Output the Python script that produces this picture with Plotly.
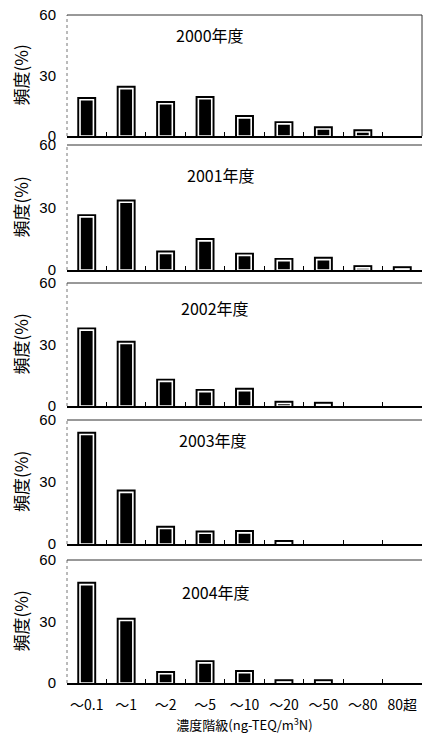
import plotly.graph_objects as go
from plotly.subplots import make_subplots

categories = ["～0.1", "～1", "～2", "～5", "～10", "～20", "～50", "～80", "80超"]
years = ["2000年度", "2001年度", "2002年度", "2003年度", "2004年度"]
v2000 = [18, 23.5, 16, 18.5, 9, 6, 3.5, 2, 0]
v2001 = [25.5, 32.5, 8, 14, 7, 4.5, 5, 1, 0.5]
v2002 = [37, 30.5, 12, 7, 7.5, 1.2, 0.7, 0, 0]
v2003 = [53, 25, 7.5, 5.2, 5.4, 0.6, 0, 0, 0]
v2004 = [48, 30.5, 4.5, 9.8, 5, 0.5, 0.5, 0, 0]
series = [v2000, v2001, v2002, v2003, v2004]
y_ticks = [0, 30, 60]

# label placement within each panel (domain fractions)
label_x = [0.403, 0.434, 0.417, 0.411, 0.420]
label_y = [0.835, 0.76, 0.80, 0.84, 0.74]

FONT = "Liberation Sans, Arial, Noto Sans CJK JP, sans-serif"
CJK = "Noto Sans CJK JP, Liberation Sans, sans-serif"

W, H = 424, 738
ML, MR, MT, MB = 67, 2, 15, 55
ph = H - MT - MB
panels_px = [(15, 136), (145, 270), (283, 406), (420, 544), (560, 683)]
domains = [[(H - MB - b) / ph, (H - MB - t) / ph] for t, b in panels_px]

fig = make_subplots(rows=5, cols=1)

for i, vals in enumerate(series):
    r = i + 1
    yv = [v if v > 0 else None for v in vals]
    fig.add_trace(go.Bar(x=categories, y=yv, width=0.34,
                         marker=dict(color="black", line=dict(color="black", width=5.5)),
                         showlegend=False, hoverinfo="skip"), row=r, col=1)
    fig.add_trace(go.Bar(x=categories, y=yv, width=0.34,
                         marker=dict(color="black", line=dict(color="white", width=1.6)),
                         showlegend=False), row=r, col=1)

for i in range(5):
    sx = "" if i == 0 else str(i + 1)
    last = i == 4
    fig.layout["xaxis" + sx].update(
        type="category", range=[-0.5, 8.5], domain=[0, 1], automargin=False,
        showline=True, linecolor="black", linewidth=1.5,
        ticks="inside", tickson="boundaries", ticklen=4, tickcolor="black",
        showgrid=False, zeroline=False, fixedrange=True, tickangle=0,
        showticklabels=last, tickfont=dict(family=CJK, size=14, color="black"),
        ticklabelstandoff=8,
    )
    fig.layout["yaxis" + sx].update(
        range=[0, 60], domain=domains[i], tickvals=y_ticks, automargin=False,
        showline=False, ticks="", showgrid=False, zeroline=False,
        tickfont=dict(family=FONT, size=15, color="black"),
        ticklabelstandoff=10, fixedrange=True,
    )
    xd, yd = "x" + sx + " domain", "y" + sx + " domain"
    fig.add_shape(type="line", xref=xd, yref=yd, x0=0, x1=0, y0=0, y1=1,
                  line=dict(color="#777", width=1, dash="dot"))
    fig.add_shape(type="line", xref=xd, yref=yd, x0=0, x1=1, y0=1, y1=1,
                  line=dict(color="#333", width=1))
    if i == 0:
        fig.add_shape(type="line", xref=xd, yref=yd, x0=1, x1=1, y0=0, y1=1,
                      line=dict(color="#333", width=1))
    fig.add_annotation(text=years[i], xref=xd, yref=yd, x=label_x[i], y=label_y[i],
                       xanchor="center", yanchor="middle",
                       showarrow=False, font=dict(family=CJK, size=16, color="black"))
    fig.add_annotation(text="頻度(%)", xref="paper", yref=yd, x=0, y=0.5,
                       xanchor="center", yanchor="middle",
                       xshift=-47, textangle=-90, showarrow=False,
                       font=dict(family=CJK, size=17, color="black"))

fig.layout["xaxis5"].title = dict(text="濃度階級(ng-TEQ/m<sup>3</sup>N)",
                                  font=dict(family=CJK, size=13, color="black"),
                                  standoff=0)

fig.update_layout(
    width=W, height=H, barmode="overlay",
    margin=dict(l=ML, r=MR, t=MT, b=MB),
    paper_bgcolor="white", plot_bgcolor="white",
    font=dict(family=FONT, color="black"),
)

fig.write_html("out.html", config={"displayModeBar": False},
               post_script="document.body.style.margin='0';")
